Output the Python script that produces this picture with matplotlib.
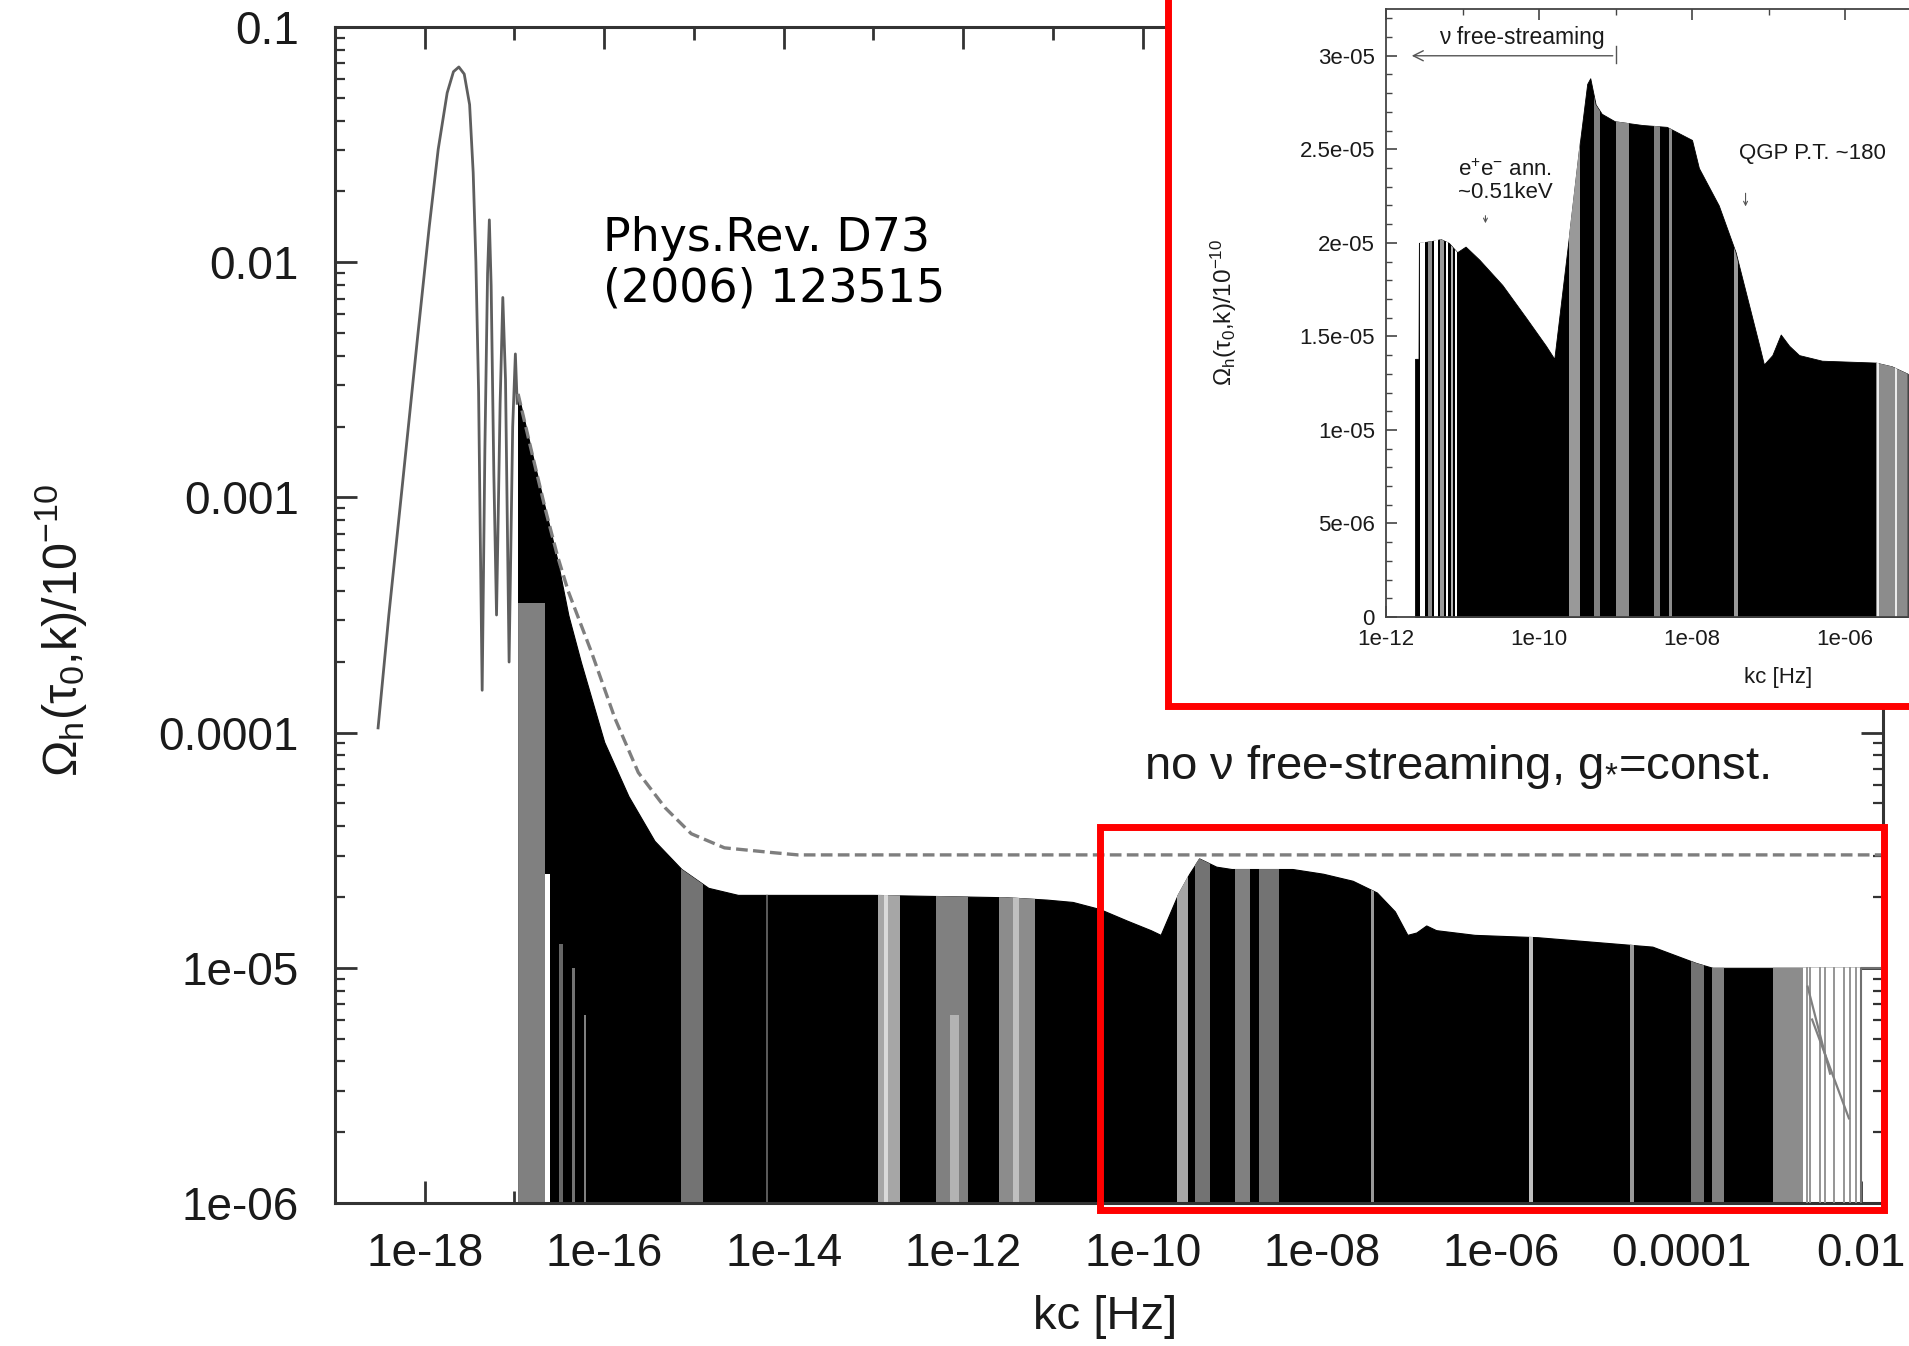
import numpy as np
import matplotlib
matplotlib.use('Agg')
import matplotlib.pyplot as plt
from matplotlib.patches import Rectangle
from matplotlib.ticker import LogLocator, NullFormatter, MultipleLocator

# ---------------- data (log10 values) ----------------
# first resolved oscillations (main panel), drawn as a thin line
LOBE_LOGK = [-18.52, -18.40, -18.25, -18.08, -17.95, -17.85, -17.75, -17.68, -17.62,
             -17.56, -17.50, -17.46, -17.43, -17.40, -17.38, -17.36, -17.33, -17.30,
             -17.28, -17.26, -17.23, -17.20, -17.16, -17.13, -17.10, -17.06, -17.02,
             -16.99, -16.97]
LOBE_LOGV = [-3.98, -3.50, -2.95, -2.32, -1.85, -1.52, -1.28, -1.19, -1.17,
             -1.20, -1.33, -1.62, -2.00, -2.55, -3.20, -3.82, -2.80, -2.05,
             -1.82, -2.10, -2.90, -3.50, -2.60, -2.15, -2.50, -3.70, -2.70,
             -2.39, -2.60]

# upper envelope of the densely oscillating (black) region, main panel
MAIN_ENV_LOGK = [-16.96, -16.80, -16.65, -16.52, -16.40, -16.26, -16.00, -15.73, -15.44,
                 -15.14, -14.84, -14.51, -13.00, -11.53, -11.07, -10.78, -10.48, -10.17,
                 -9.91, -9.80, -9.61, -9.48, -9.37, -9.18, -9.01, -8.33, -7.99, -7.66,
                 -7.39, -7.19, -7.05, -6.95, -6.84, -6.73, -6.30, -5.60, -4.32, -3.83,
                 -3.65, -2.00]
MAIN_ENV_LOGV = [-2.56, -2.82, -3.06, -3.27, -3.50, -3.70, -4.04, -4.27, -4.46,
                 -4.58, -4.66, -4.69, -4.69, -4.70, -4.71, -4.72, -4.75, -4.80,
                 -4.84, -4.86, -4.69, -4.60, -4.535, -4.57, -4.58, -4.58, -4.60, -4.63,
                 -4.68, -4.76, -4.86, -4.85, -4.82, -4.84, -4.86, -4.87, -4.91, -4.98,
                 -5.00, -5.00]

# "no nu free-streaming, g*=const." curve (dashed)
DASH_LOGK = [-16.96, -16.80, -16.65, -16.52, -16.40, -16.27, -16.14, -15.88, -15.62,
             -15.32, -15.03, -14.66, -14.13, -13.84, -1.76]
DASH_LOGV = [-2.56, -2.82, -3.06, -3.25, -3.40, -3.53, -3.66, -3.94, -4.17,
             -4.32, -4.43, -4.49, -4.51, -4.52, -4.52]

# lighter vertical streaks inside the black region (main panel)
STREAK_LO = [-16.96, -16.66, -16.50, -16.36, -16.22, -15.14, -14.20, -12.95, -12.88,
             -12.30, -12.15, -11.60, -11.45, -9.62, -9.42, -8.97, -8.70, -7.45,
             -5.69, -4.57, -3.89, -3.65, -2.98, -2.64]
STREAK_HI = [-16.66, -16.60, -16.46, -16.33, -16.20, -14.90, -14.17, -12.70, -12.84,
             -11.95, -12.05, -11.20, -11.38, -9.50, -9.25, -8.80, -8.48, -7.42,
             -5.65, -4.53, -3.75, -3.52, -2.64, -2.00]
STREAK_GRAY = [0.50, 1.0, 0.40, 0.45, 0.50, 0.45, 0.35, 0.65, 0.85,
               0.50, 0.70, 0.55, 0.75, 0.65, 0.45, 0.50, 0.45, 0.60,
               0.75, 0.60, 0.45, 0.50, 0.55, 1.0]
STREAK_TOP = [-3.45, -4.60, -4.90, -5.00, -5.20, -1, -1, -1, -1,
              -1, -5.20, -1, -1, -1, -1, -1, -1, -1,
              -1, -1, -1, -1, -1, -1]

# resolved oscillations near 0.01 Hz
TAIL_LINES_LOGK = [-2.60, -2.56, -2.45, -2.40, -2.30, -2.18, -2.12, -2.05]
DIAG_A_LOGK = [-2.59, -2.34]
DIAG_A_LOGV = [-5.08, -5.45]
DIAG_B_LOGK = [-2.54, -2.13]
DIAG_B_LOGV = [-5.22, -5.64]

# inset (linear y, units of 1e-5)
INSET_LOGK = [-11.62, -11.575, -11.57, -11.40, -11.285, -11.18, -11.07, -10.96, -10.78,
              -10.48, -10.17, -9.91, -9.80, -9.61, -9.48, -9.37, -9.33, -9.26, -9.18,
              -9.01, -8.65, -8.33, -8.00, -7.91, -7.65, -7.43, -7.25, -7.12, -7.06,
              -6.95, -6.84, -6.73, -6.60, -6.30, -5.60, -5.39, -5.18]
INSET_VAL = [1.38, 1.38, 2.00, 2.01, 2.02, 2.00, 1.95, 1.98, 1.91,
             1.775, 1.60, 1.45, 1.38, 2.03, 2.49, 2.85, 2.88, 2.74, 2.69,
             2.65, 2.63, 2.62, 2.55, 2.40, 2.20, 1.95, 1.66, 1.45, 1.35,
             1.40, 1.51, 1.45, 1.40, 1.37, 1.36, 1.34, 1.30]
INSET_STREAK_LO = [-11.556, -11.45, -11.37, -11.29, -11.22, -11.155, -11.10,
                   -9.61, -9.28, -9.00, -8.50, -8.30, -7.45, -5.60, -5.58, -5.35]
INSET_STREAK_HI = [-11.49, -11.40, -11.32, -11.245, -11.19, -11.125, -11.07,
                   -9.47, -9.20, -8.82, -8.42, -8.26, -7.40, -5.18, -5.55, -5.32]
INSET_STREAK_GRAY = [1.0, 0.55, 1.0, 0.6, 1.0, 0.7, 1.0,
                     0.6, 0.5, 0.55, 0.5, 0.55, 0.6, 0.55, 0.92, 0.92]

MAIN_XT = [1e-18, 1e-16, 1e-14, 1e-12, 1e-10, 1e-8, 1e-6, 1e-4, 1e-2]
MAIN_XL = ['1e-18', '1e-16', '1e-14', '1e-12', '1e-10', '1e-08', '1e-06', '0.0001', '0.01']
MAIN_XMINOR = [1e-17, 1e-15, 1e-13, 1e-11, 1e-9, 1e-7, 1e-5, 1e-3]
MAIN_YT = [1e-6, 1e-5, 1e-4, 1e-3, 1e-2, 1e-1]
MAIN_YL = ['1e-06', '1e-05', '0.0001', '0.001', '0.01', '0.1']
INSET_XT = [1e-12, 1e-10, 1e-8, 1e-6]
INSET_XL = ['1e-12', '1e-10', '1e-08', '1e-06']
INSET_XMINOR = [1e-11, 1e-9, 1e-7, 1e-5]
INSET_YT = [0, 5e-6, 1e-5, 1.5e-5, 2e-5, 2.5e-5, 3e-5]
INSET_YL = ['0', '5e-06', '1e-05', '1.5e-05', '2e-05', '2.5e-05', '3e-05']

# ---------------- styling ----------------
plt.rcParams['font.family'] = ['Liberation Sans', 'DejaVu Sans']
plt.rcParams['mathtext.fontset'] = 'custom'
plt.rcParams['mathtext.rm'] = 'Liberation Sans'
plt.rcParams['mathtext.it'] = 'Liberation Sans'
plt.rcParams['mathtext.bf'] = 'Liberation Sans:bold'

W, H = 1909, 1346
fig = plt.figure(figsize=(W / 100, H / 100), dpi=100)
fig.patch.set_facecolor('white')

YLABEL = r'$\Omega_{\rm h}(\tau_0{,}{\rm k})/10^{-10}$'


def fx(px):
    return px / W


def fy(py):
    return 1 - py / H


def add_streaks(axis, poly, lo, hi, grays, tops, ybot, log_top=True):
    path = poly.get_paths()[0]
    trans = poly.get_transform()
    for a, b, g, t in zip(lo, hi, grays, tops):
        x0, x1 = 10 ** a, 10 ** b
        ytop = 10 ** t if log_top else t
        r = Rectangle((x0, ybot), x1 - x0, ytop - ybot, facecolor=str(g),
                      edgecolor='none', zorder=2.5)
        axis.add_patch(r)
        r.set_clip_path(path, trans)


# ---------------- main panel ----------------
ax = fig.add_axes([fx(335), fy(1203), (1883 - 335) / W, (1203 - 27) / H])
ax.set_xscale('log')
ax.set_yscale('log')
ax.set_xlim(1e-19, 10 ** -1.75)
ax.set_ylim(1e-6, 0.1)

lk = np.array(LOBE_LOGK)
lv = np.array(LOBE_LOGV)
ax.plot(10 ** lk, 10 ** lv, color='#5e5e5e', lw=2.0, zorder=2)

ek = 10 ** np.array(MAIN_ENV_LOGK)
ev = 10 ** np.array(MAIN_ENV_LOGV)
poly = ax.fill_between(ek, 1e-7, ev, facecolor='black', edgecolor='black', lw=0.8, zorder=2)
add_streaks(ax, poly, STREAK_LO, STREAK_HI, STREAK_GRAY, STREAK_TOP, 1e-7)

for t in TAIL_LINES_LOGK:
    ax.plot([10 ** t, 10 ** t], [1e-6, 1e-5], color='#8c8c8c', lw=1.3, zorder=2.6)
ax.plot(10 ** np.array(DIAG_A_LOGK), 10 ** np.array(DIAG_A_LOGV), color='#808080', lw=1.6, zorder=2.6)
ax.plot(10 ** np.array(DIAG_B_LOGK), 10 ** np.array(DIAG_B_LOGV), color='#808080', lw=1.6, zorder=2.6)
ax.plot([1e-2, 1e-2, 10 ** -1.75], [1e-6, 1e-5, 1e-5], color='#707070', lw=1.5, zorder=2.6)

ax.plot(10 ** np.array(DASH_LOGK), 10 ** np.array(DASH_LOGV), color='#7e7e7e', lw=2.4,
        ls=(0, (3.5, 1.6)), zorder=3)

ax.set_xticks(MAIN_XT, MAIN_XL)
ax.set_xticks(MAIN_XMINOR, minor=True)
ax.xaxis.set_minor_formatter(NullFormatter())
ax.set_yticks(MAIN_YT, MAIN_YL)
ax.yaxis.set_minor_locator(LogLocator(base=10, subs=np.arange(2, 10), numticks=100))
ax.yaxis.set_minor_formatter(NullFormatter())
ax.tick_params(axis='both', which='both', direction='in', top=True, right=True,
               colors='#333333', labelcolor='#1a1a1a')
ax.tick_params(axis='x', which='major', length=16, width=2, pad=21, labelsize=33)
ax.tick_params(axis='x', which='minor', length=9, width=2)
ax.tick_params(axis='y', which='major', length=16, width=2, pad=26, labelsize=33)
ax.tick_params(axis='y', which='minor', length=7, width=1.6)
for s in ax.spines.values():
    s.set_linewidth(2.2)
    s.set_color('#333333')

fig.text(fx(61), fy(630), YLABEL, rotation=90,
         ha='center', va='center', fontsize=35, color='#1a1a1a')
fig.text(fx(1105), fy(1317), 'kc [Hz]', ha='center', va='center', fontsize=34, color='#1a1a1a')
fig.text(fx(1144), fy(767), r'no ν free-streaming, g$_{*}$=const.', ha='left', va='center',
         fontsize=34, color='#1a1a1a')
fig.text(fx(603), fy(264), 'Phys.Rev. D73\n(2006) 123515', family='DejaVu Sans',
         fontsize=33, ha='left', va='center', linespacing=1.15, color='black')

# red highlight box in main panel
fig.add_artist(Rectangle((fx(1100), fy(1210)), (1884 - 1100) / W, (1210 - 827) / H,
                         transform=fig.transFigure, facecolor='none', edgecolor='#ff0000',
                         lw=5, zorder=5))

# ---------------- inset ----------------
fig.add_artist(Rectangle((fx(1168), fy(706)), 1.2, 1.0, transform=fig.transFigure,
                         facecolor='white', edgecolor='#ff0000', lw=5, zorder=5))

axi = fig.add_axes([fx(1386), fy(617), (1921.5 - 1386) / W, (617 - 9) / H], zorder=6)
axi.set_facecolor('white')
axi.set_xscale('log')
axi.set_xlim(1e-12, 1e-5)
axi.set_ylim(0, 3.25e-5)

ik = 10 ** np.array(INSET_LOGK)
iv = np.array(INSET_VAL) * 1e-5
ipoly = axi.fill_between(ik, 0, iv, facecolor='black', edgecolor='black', lw=0.6, zorder=2)
add_streaks(axi, ipoly, INSET_STREAK_LO, INSET_STREAK_HI, INSET_STREAK_GRAY,
            [1e-4] * len(INSET_STREAK_LO), -1e-6, log_top=False)

axi.set_xticks(INSET_XT, INSET_XL)
axi.set_xticks(INSET_XMINOR, minor=True)
axi.xaxis.set_minor_formatter(NullFormatter())
axi.set_yticks(INSET_YT, INSET_YL)
axi.yaxis.set_minor_locator(MultipleLocator(1e-6))
axi.tick_params(axis='both', which='both', direction='in', top=True, right=True,
                colors='#444444', labelcolor='#1a1a1a')
axi.tick_params(axis='both', which='major', length=8, width=1.2, labelsize=16)
axi.tick_params(axis='x', which='major', pad=9)
axi.tick_params(axis='y', which='major', pad=8)
axi.tick_params(axis='both', which='minor', length=4.5, width=1.0)
for s in axi.spines.values():
    s.set_linewidth(1.3)
    s.set_color('#444444')

fig.text(fx(1224), fy(312), YLABEL, rotation=90,
         ha='center', va='center', fontsize=17.5, color='#1a1a1a', zorder=7)
fig.text(fx(1778), fy(677), 'kc [Hz]', ha='center', va='center', fontsize=16,
         color='#1a1a1a', zorder=7)

# inset annotations
axi.annotate('', xy=(10 ** -11.7, 3e-5), xytext=(1e-9, 3e-5),
             arrowprops=dict(arrowstyle='->', lw=1.0, color='#555555', mutation_scale=18))
axi.plot([1e-9, 1e-9], [2.96e-5, 3.05e-5], color='#555555', lw=1.0)
axi.text(10 ** -11.30, 3.10e-5, 'ν free-streaming', ha='left', va='center', fontsize=16.5,
         color='#1a1a1a')
axi.text(10 ** -10.44, 2.39e-5, r'e$^{+}$e$^{-}$ ann.', ha='center', va='center',
         fontsize=16, color='#1a1a1a')
axi.text(10 ** -10.44, 2.27e-5, '~0.51keV', ha='center', va='center', fontsize=16,
         color='#1a1a1a')
axi.annotate('', xy=(10 ** -10.70, 2.09e-5), xytext=(10 ** -10.70, 2.16e-5),
             arrowprops=dict(arrowstyle='->', lw=0.8, color='#555555', mutation_scale=7))
axi.text(10 ** -7.386, 2.476e-5, 'QGP P.T. ~180', ha='left', va='center', fontsize=16,
         color='#1a1a1a')
axi.annotate('', xy=(10 ** -7.30, 2.18e-5), xytext=(10 ** -7.30, 2.28e-5),
             arrowprops=dict(arrowstyle='->', lw=0.8, color='#555555', mutation_scale=7))

fig.savefig('out.png', dpi=100)
